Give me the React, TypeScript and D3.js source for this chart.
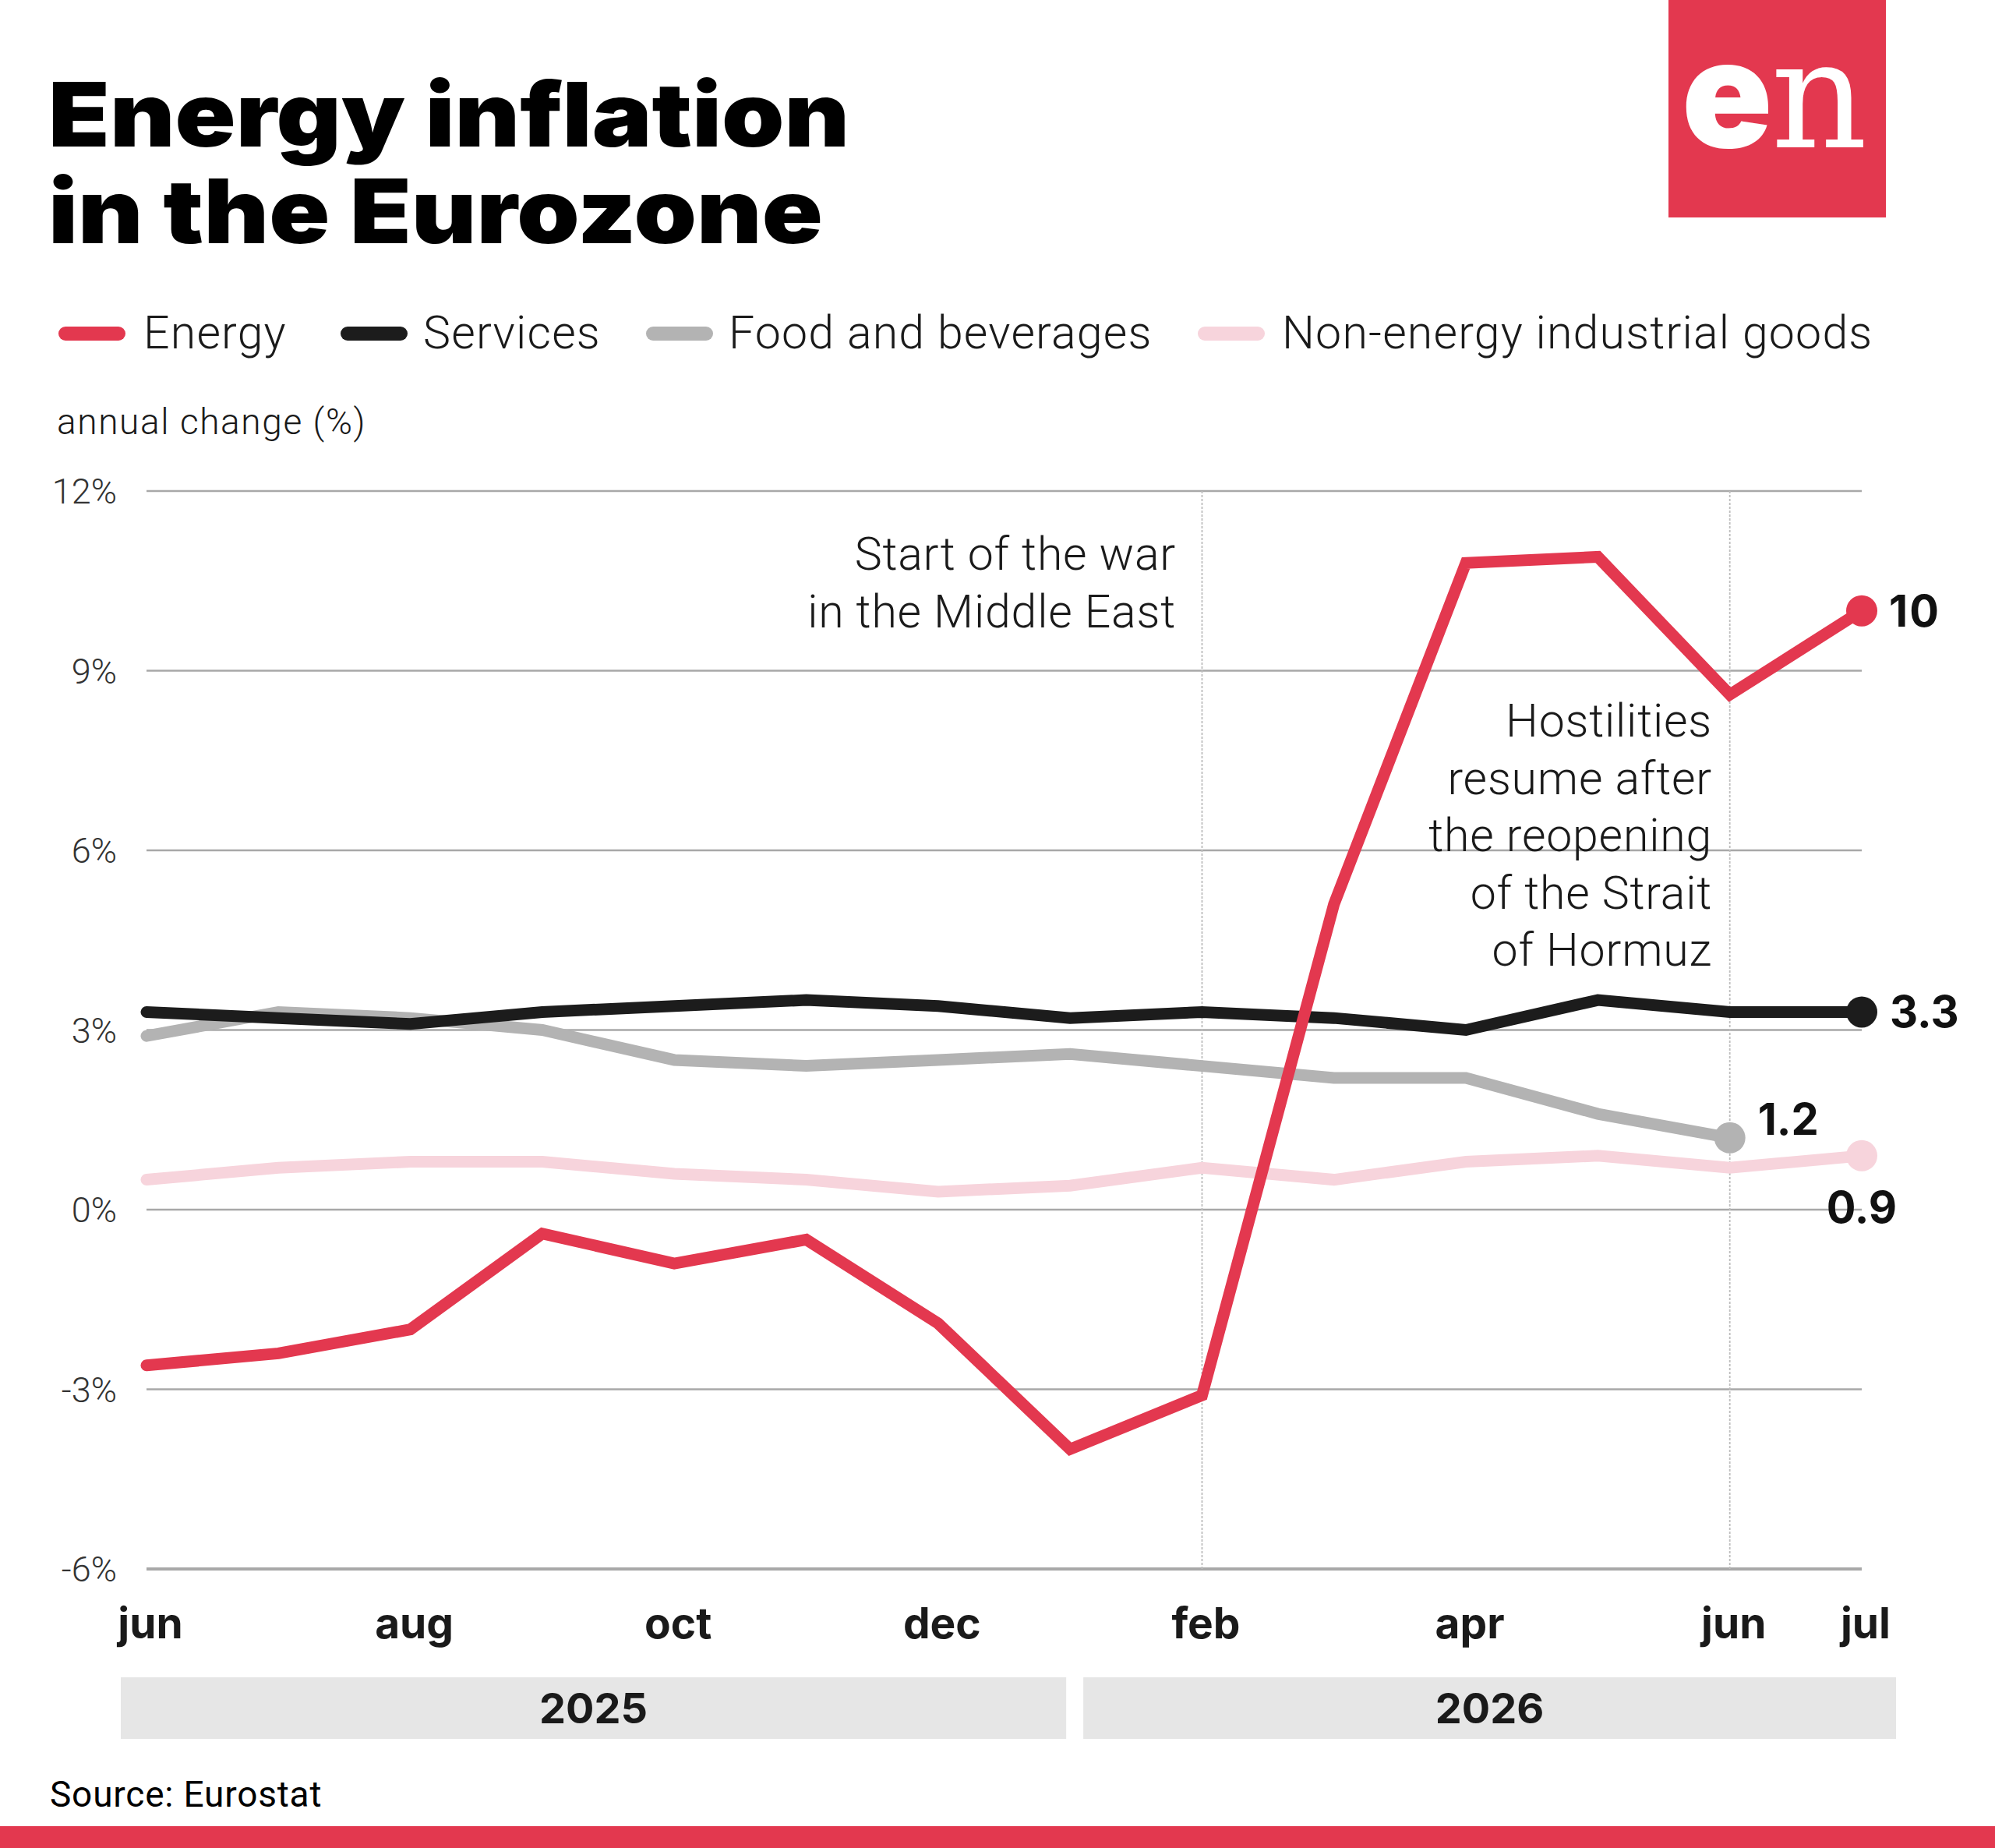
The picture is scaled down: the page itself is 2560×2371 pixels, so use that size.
import { useEffect } from "react";
import { line, scaleLinear, scalePoint } from "d3";

// monthly readings, jun 2025 .. jul 2026
const months = [
  "2025-06", "2025-07", "2025-08", "2025-09", "2025-10", "2025-11", "2025-12",
  "2026-01", "2026-02", "2026-03", "2026-04", "2026-05", "2026-06", "2026-07",
];
const monthNames = ["jun", "jul", "aug", "sep", "oct", "nov", "dec", "jan", "feb", "mar", "apr", "may", "jun", "jul"];
const tickMonths = ["2025-06", "2025-08", "2025-10", "2025-12", "2026-02", "2026-04", "2026-06", "2026-07"];
const yTicks = [-6, -3, 0, 3, 6, 9, 12];

const energy = [-2.6, -2.4, -2.0, -0.4, -0.9, -0.5, -1.9, -4.0, -3.1, 5.1, 10.8, 10.9, 8.6, 10.0];
const services = [3.3, 3.2, 3.1, 3.3, 3.4, 3.5, 3.4, 3.2, 3.3, 3.2, 3.0, 3.5, 3.3, 3.3];
const food = [2.9, 3.3, 3.2, 3.0, 2.5, 2.4, 2.5, 2.6, 2.4, 2.2, 2.2, 1.6, 1.2];
const nonEnergy = [0.5, 0.7, 0.8, 0.8, 0.6, 0.5, 0.3, 0.4, 0.7, 0.5, 0.8, 0.9, 0.7, 0.9];

const years = [
  { label: "2025", from: "2025-06", to: "2026-01" },
  { label: "2026", from: "2026-01", to: "2026-07" },
];
const markers = ["2026-02", "2026-06"];

const RED = "#e3384f";
const BLACK = "#1c1c1c";
const GREY = "#b3b3b3";
const PINK = "#f7d4dc";

const series = [
  { name: "Non-energy industrial goods", values: nonEnergy, color: PINK },
  { name: "Food and beverages", values: food, color: GREY },
  { name: "Services", values: services, color: BLACK },
  { name: "Energy", values: energy, color: RED },
];

const W = 2560,
  H = 2371;
const SANS = "Roboto, 'Noto Sans', sans-serif";
const BOLD = "Inter, Roboto, sans-serif";

export default function App() {
  useEffect(() => {
    document.body.style.margin = "0";
  }, []);

  const x = scalePoint<string>().domain(months).range([188, 2389]);
  const y = scaleLinear().domain([-6, 12]).range([2013, 630]);
  const px = (i: number) => x(months[i]) as number;
  const path = line<number>()
    .x((_d, i) => px(i))
    .y((d) => y(d));

  const legend = [
    { name: "Energy", color: RED, sx: 75, tx: 184 },
    { name: "Services", color: BLACK, sx: 437, tx: 543 },
    { name: "Food and beverages", color: GREY, sx: 829, tx: 935 },
    { name: "Non-energy industrial goods", color: PINK, sx: 1537, tx: 1645 },
  ];

  const last = (v: number[]) => ({ cx: px(v.length - 1), cy: y(v[v.length - 1]), v: v[v.length - 1] });
  const eEnd = last(energy),
    sEnd = last(services),
    fEnd = last(food),
    nEnd = last(nonEnergy);

  return (
    <svg width={W} height={H} viewBox={`0 0 ${W} ${H}`} style={{ display: "block", background: "#fff" }}>
      {/* title */}
      <g transform="translate(62,0) scale(1.13,1)" fontFamily={BOLD} fontWeight={900} fontSize={114} fill="#000">
        <text x={0} y={188}>Energy inflation</text>
        <text x={0} y={312}>in the Eurozone</text>
      </g>

      {/* logo */}
      <rect x={2141} y={0} width={279} height={279} fill={RED} />
      <text x={2158} y={189} fill="#fff" fontSize={192}>
        <tspan fontFamily={BOLD} fontWeight={900}>e</tspan>
        <tspan fontFamily="'DejaVu Serif', 'Liberation Serif', serif" fontWeight={400} dx={-2}>n</tspan>
      </text>

      {/* legend */}
      {legend.map((l) => (
        <g key={l.name}>
          <line x1={l.sx + 9} x2={l.sx + 77} y1={428} y2={428} stroke={l.color} strokeWidth={18} strokeLinecap="round" />
          <text x={l.tx} y={447} fontFamily={SANS} fontWeight={300} fontSize={59} letterSpacing={1.2} fill="#1a1a1a">
            {l.name}
          </text>
        </g>
      ))}

      <text x={73} y={557} fontFamily={SANS} fontWeight={300} fontSize={46} letterSpacing={1.6} fill="#1a1a1a">
        annual change (%)
      </text>

      {/* grid */}
      {yTicks.map((t) => (
        <g key={t}>
          <line x1={188} x2={2389} y1={y(t)} y2={y(t)} stroke="#a8a8a8" strokeWidth={t === -6 ? 4 : 2.5} />
          <text x={150} y={y(t) + 16} textAnchor="end" fontFamily={SANS} fontWeight={300} fontSize={45} fill="#333">
            {t}%
          </text>
        </g>
      ))}
      {markers.map((m) => (
        <line
          key={m}
          x1={x(m)}
          x2={x(m)}
          y1={y(12)}
          y2={y(-6)}
          stroke="#bdbdbd"
          strokeWidth={1.8}
          strokeDasharray="3 2"
        />
      ))}

      {/* annotations */}
      <g fontFamily={SANS} fontWeight={300} fontSize={59} letterSpacing={0.8} fill="#1a1a1a" textAnchor="end">
        <text x={1509} y={731}>Start of the war</text>
        <text x={1509} y={805}>in the Middle East</text>
        {["Hostilities", "resume after", "the reopening", "of the Strait", "of Hormuz"].map((s, i) => (
          <text key={s} x={2197} y={945 + i * 73.5}>
            {s}
          </text>
        ))}
      </g>

      {/* lines */}
      {series.map((s) => (
        <path
          key={s.name}
          d={path(s.values) || ""}
          fill="none"
          stroke={s.color}
          strokeWidth={15}
          strokeLinejoin="miter"
          strokeLinecap="round"
        />
      ))}

      {/* end points */}
      <circle cx={nEnd.cx} cy={nEnd.cy} r={20} fill={PINK} />
      <circle cx={fEnd.cx} cy={fEnd.cy} r={20} fill={GREY} />
      <circle cx={sEnd.cx} cy={sEnd.cy} r={20} fill={BLACK} />
      <circle cx={eEnd.cx} cy={eEnd.cy} r={20} fill={RED} />
      <g fontFamily={BOLD} fontWeight={700} fontSize={56} fill="#111">
        <text x={eEnd.cx + 35} y={eEnd.cy + 20} letterSpacing={2}>{eEnd.v}</text>
        <text x={sEnd.cx + 36} y={sEnd.cy + 20}>{sEnd.v}</text>
        <text x={fEnd.cx + 36} y={fEnd.cy - 4}>{fEnd.v}</text>
        <text x={nEnd.cx} y={nEnd.cy + 86} textAnchor="middle">{nEnd.v}</text>
      </g>

      {/* x axis */}
      {tickMonths.map((m) => (
        <text
          key={m}
          x={(x(m) as number) + 5}
          y={2102}
          textAnchor="middle"
          fontFamily={BOLD}
          fontWeight={700}
          fontSize={55}
          fill="#1a1a1a"
        >
          {monthNames[months.indexOf(m)]}
        </text>
      ))}

      {years.map((yr, i) => {
        const x0 = i === 0 ? (x(yr.from) as number) - 33 : (x(yr.from) as number) + 17;
        const x1 = i === 0 ? (x(yr.to) as number) - 5 : (x(yr.to) as number) + 44;
        return (
          <g key={yr.label}>
            <rect x={x0} y={2152} width={x1 - x0} height={79} fill="#e6e6e6" />
            <text
              x={(x0 + x1) / 2}
              y={2211}
              textAnchor="middle"
              fontFamily={BOLD}
              fontWeight={700}
              fontSize={54}
              fill="#1a1a1a"
            >
              {yr.label}
            </text>
          </g>
        );
      })}

      {/* footer */}
      <text x={64} y={2318} fontFamily={SANS} fontWeight={400} fontSize={46} letterSpacing={0.8} fill="#000">
        Source: Eurostat
      </text>
      <rect x={0} y={2343} width={W} height={H - 2343} fill={RED} />
    </svg>
  );
}
